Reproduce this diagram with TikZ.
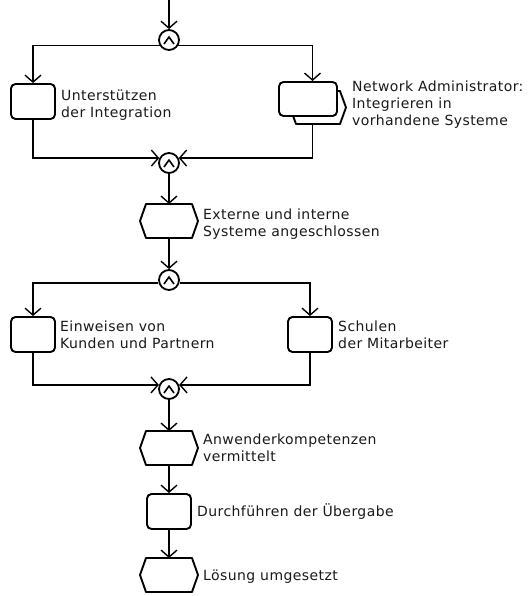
\documentclass[tikz,border=0pt]{standalone}
\usepackage{fontspec}
\setmainfont{DejaVu Sans}[LetterSpace=3]
\usetikzlibrary{arrows.meta}
\begin{document}
\begin{tikzpicture}[x=1pt,y=-1pt,
  shapeline/.style={line width=1.9pt},
  fn/.style={draw, shapeline, rounded corners=4.5pt, minimum width=44pt, minimum height=35pt, inner sep=0pt, fill=white},
  ev/.style={minimum width=58pt, minimum height=34pt, inner sep=0pt, outer sep=0pt,
    append after command={\pgfextra{\draw[shapeline, fill=white, line join=round]
      (\tikzlastnode.west) -- ([xshift=6pt]\tikzlastnode.north west)
      -- ([xshift=-6pt]\tikzlastnode.north east) -- (\tikzlastnode.east)
      -- ([xshift=-6pt]\tikzlastnode.south east) -- ([xshift=6pt]\tikzlastnode.south west) -- cycle;}}},
  jn/.style={circle, draw, line width=1.8pt, minimum size=20pt, inner sep=0pt, fill=white,
    path picture={\draw[line width=1.6pt, line join=round]
      ([shift={(-5pt,-4pt)}]path picture bounding box.center)
      -- ([shift={(0pt,3pt)}]path picture bounding box.center)
      -- ([shift={(5pt,-4pt)}]path picture bounding box.center);}},
  conn/.style={line width=1.4pt, -{Straight Barb[length=7pt,width=16pt]}},
  lbl/.style={anchor=west, inner sep=0pt, align=left, font=\fontsize{14}{17}\selectfont, text=black!90}
]
\useasboundingbox (0,0) rectangle (527,596);

% nodes
\coordinate (top) at (169,0);
\node[jn] (c1) at (169,40) {};
\node[fn] (f1) at (33,101.5) {};
\node[ev, minimum width=56pt, minimum height=33pt] (f2b) at (318,107.5) {};
\node[fn, minimum width=58pt, minimum height=34pt] (f2a) at (308,99) {};
\node[minimum width=69pt, minimum height=44pt, inner sep=0pt, outer sep=0pt] (f2) at (312.5,103) {};
\node[jn] (c2) at (169,163) {};
\node[ev] (e1) at (169,221) {};
\node[jn] (c3) at (169,280) {};
\node[fn] (f3) at (33,334.5) {};
\node[fn] (f4) at (310,334.5) {};
\node[jn] (c4) at (169,389) {};
\node[ev] (e2) at (169,448) {};
\node[fn] (f5) at (169,511.5) {};
\node[ev] (e3) at (169,575) {};

% labels
\node[lbl] (t1) at (61,104.8) {Unterstützen\\der Integration};
\node[lbl] (t2) at (352,104.3) {Network Administrator:\\Integrieren in\\vorhandene Systeme};
\node[lbl] (t3) at (203,223.8) {Externe und interne\\Systeme angeschlossen};
\node[lbl] (t4) at (60,335.1) {Einweisen von\\Kunden und Partnern};
\node[lbl] (t5) at (338,335.1) {Schulen\\der Mitarbeiter};
\node[lbl] (t6) at (203,448.1) {Anwenderkompetenzen\\vermittelt};
\node[lbl] (t7) at (197,512) {Durchführen der Übergabe};
\node[lbl] (t8) at (203,576.2) {Lösung umgesetzt};

% connectors
\draw[conn] (top) -- (c1);
\draw[conn] (c1.210) -| (f1);
\draw[conn] (c1.330) -| (f2);
\draw[conn] (f1) |- (c2.153);
\draw[conn] (f2) |- (c2.27);
\draw[conn] (c2) -- (e1);
\draw[conn] (e1) -- (c3);
\draw[conn] (c3.195) -| (f3);
\draw[conn] (c3.345) -| (f4);
\draw[conn] (f3) |- (c4.158);
\draw[conn] (f4) |- (c4.22);
\draw[conn] (c4) -- (e2);
\draw[conn] (e2) -- (f5);
\draw[conn] (f5) -- (e3);
\end{tikzpicture}
\end{document}
